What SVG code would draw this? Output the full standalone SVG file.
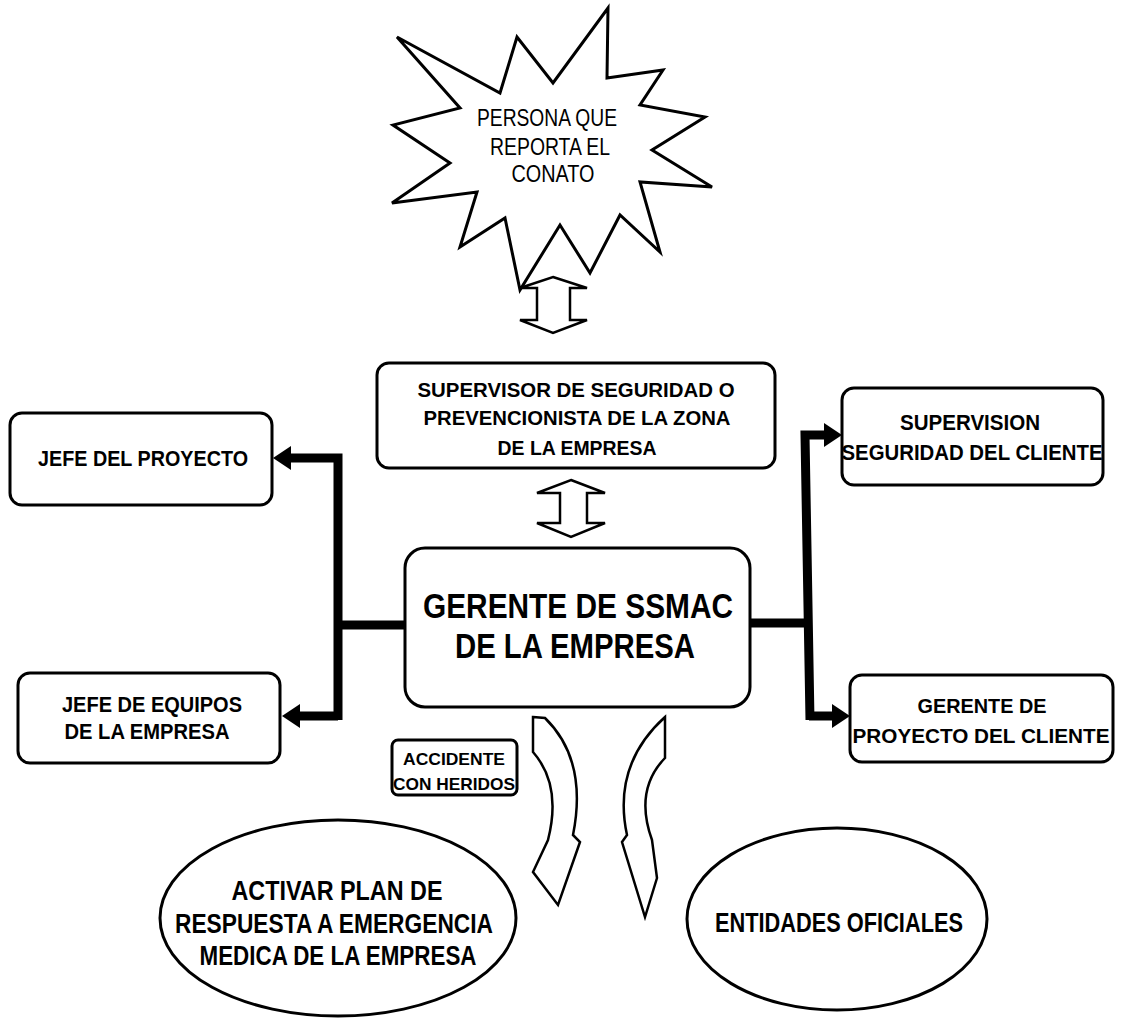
<svg xmlns="http://www.w3.org/2000/svg" width="1127" height="1018" viewBox="0 0 1127 1018">
  <style>
    .box { fill: #fff; stroke: #000; stroke-width: 3; }
    .hollow { fill: #fff; stroke: #000; stroke-width: 2.5; stroke-linejoin: miter; }
    .wire { fill: none; stroke: #000; stroke-width: 9; }
    .t { font-family: "Liberation Sans", Arial, sans-serif; font-weight: bold; fill: #000; text-anchor: middle; }
    .tn { font-family: "Liberation Sans", Arial, sans-serif; font-weight: normal; fill: #000; text-anchor: middle; }
  </style>
  <defs>
    <!-- solid head; the wire ends at the head's base -->
    <marker id="head" viewBox="0 0 18 24" refX="0" refY="12" markerWidth="18" markerHeight="24" markerUnits="userSpaceOnUse" orient="auto">
      <path d="M0,0 L18,12 L0,24 Z" fill="#000"/>
    </marker>
  </defs>
  <rect width="1127" height="1018" fill="#fff"/>

  <!-- starburst: person reporting -->
  <g id="persona">
    <polygon class="box" points="397,37 500,93 517,37 553,83 608,8 607,78 663,70 640,105 705,117 652,150 712,187 640,182 660,252 620,215 590,273 560,225 520,290 505,218 460,247 477,192 392,203 450,163 393,125 460,108"/>
    <text class="tn" x="547" y="126" font-size="24" textLength="140" lengthAdjust="spacingAndGlyphs">PERSONA QUE</text>
    <text class="tn" x="550" y="155" font-size="24" textLength="120" lengthAdjust="spacingAndGlyphs">REPORTA EL</text>
    <text class="tn" x="553" y="182" font-size="24" textLength="83" lengthAdjust="spacingAndGlyphs">CONATO</text>
  </g>

  <g id="supervisor">
    <rect class="box" x="377" y="363" width="398" height="105" rx="12"/>
    <text class="t" x="576" y="397" font-size="21" textLength="317" lengthAdjust="spacingAndGlyphs">SUPERVISOR DE SEGURIDAD O</text>
    <text class="t" x="577" y="425" font-size="21" textLength="307" lengthAdjust="spacingAndGlyphs">PREVENCIONISTA DE LA ZONA</text>
    <text class="t" x="577" y="455" font-size="21" textLength="159" lengthAdjust="spacingAndGlyphs">DE LA EMPRESA</text>
  </g>

  <g id="gerente">
    <rect class="box" x="405" y="548" width="345" height="159" rx="20"/>
    <text class="t" x="578" y="618" font-size="35" textLength="310" lengthAdjust="spacingAndGlyphs">GERENTE DE SSMAC</text>
    <text class="t" x="575" y="658" font-size="35" textLength="240" lengthAdjust="spacingAndGlyphs">DE LA EMPRESA</text>
  </g>

  <g id="jefe-proyecto">
    <rect class="box" x="10" y="413" width="262" height="92" rx="12"/>
    <text class="t" x="143" y="466" font-size="22" textLength="210" lengthAdjust="spacingAndGlyphs">JEFE  DEL PROYECTO</text>
  </g>

  <g id="jefe-equipos">
    <rect class="box" x="18" y="673" width="262" height="90" rx="12"/>
    <text class="t" x="152" y="712" font-size="22" textLength="180" lengthAdjust="spacingAndGlyphs">JEFE DE EQUIPOS</text>
    <text class="t" x="147" y="739" font-size="22" textLength="165" lengthAdjust="spacingAndGlyphs">DE LA EMPRESA</text>
  </g>

  <g id="supervision-cliente">
    <rect class="box" x="842" y="388" width="261" height="97" rx="12"/>
    <text class="t" x="970" y="430" font-size="22" textLength="140" lengthAdjust="spacingAndGlyphs">SUPERVISION</text>
    <text class="t" x="972" y="460" font-size="22" textLength="261" lengthAdjust="spacingAndGlyphs">SEGURIDAD DEL CLIENTE</text>
  </g>

  <g id="gerente-proyecto-cliente">
    <rect class="box" x="850" y="675" width="263" height="87" rx="12"/>
    <text class="t" x="982" y="713" font-size="21" textLength="129" lengthAdjust="spacingAndGlyphs">GERENTE DE</text>
    <text class="t" x="981" y="743" font-size="21" textLength="257" lengthAdjust="spacingAndGlyphs">PROYECTO DEL CLIENTE</text>
  </g>

  <g id="accidente">
    <rect class="box" x="392" y="740" width="125" height="55" rx="6"/>
    <text class="t" x="454" y="765" font-size="17" textLength="102" lengthAdjust="spacingAndGlyphs">ACCIDENTE</text>
    <text class="t" x="454" y="790" font-size="17" textLength="122" lengthAdjust="spacingAndGlyphs">CON HERIDOS</text>
  </g>

  <g id="plan-emergencia">
    <ellipse class="box" cx="338" cy="918" rx="178" ry="98"/>
    <text class="t" x="337" y="900" font-size="27" textLength="211" lengthAdjust="spacingAndGlyphs">ACTIVAR PLAN DE</text>
    <text class="t" x="334" y="933" font-size="27" textLength="318" lengthAdjust="spacingAndGlyphs">RESPUESTA A EMERGENCIA</text>
    <text class="t" x="338" y="965" font-size="27" textLength="277" lengthAdjust="spacingAndGlyphs">MEDICA DE LA EMPRESA</text>
  </g>

  <g id="entidades">
    <ellipse class="box" cx="837" cy="919" rx="150" ry="91"/>
    <text class="t" x="839" y="932" font-size="27" textLength="248" lengthAdjust="spacingAndGlyphs">ENTIDADES OFICIALES</text>
  </g>

  <!-- connectors -->
  <g id="connectors">
    <!-- hollow two-way arrows -->
    <path class="hollow" d="M553,277 L587,288 L570,288 L570,320 L587,320 L553,333 L520,320 L537,320 L537,288 L520,288 Z"/>
    <path class="hollow" d="M571,480 L605,493 L587,493 L587,523 L605,523 L571,537 L537,523 L560,523 L560,493 L537,493 Z"/>
    <!-- left branch -->
    <path class="wire" d="M405,625 L338,625"/>
    <path class="wire" d="M338,720 L338,458 L291,458" marker-end="url(#head)"/>
    <path class="wire" d="M338,716 L300,716" marker-end="url(#head)"/>
    <!-- right branch -->
    <path class="wire" d="M750,623 L809,623"/>
    <path class="wire" d="M810,720 L805,435 L824,435" marker-end="url(#head)"/>
    <path class="wire" d="M809,716 L832,716" marker-end="url(#head)"/>
    <!-- curved hollow arrows down to the two outcomes -->
    <path class="hollow" d="M533,717 L545,718 Q588,760 573,835 L580,842 L558,905 L533,872 L548,840 Q562,785 533,752 Z"/>
    <path class="hollow" d="M665,717 L665,758 Q634,790 652,840 L657,878 L645,917 L622,842 L627,835 Q612,765 665,717 Z"/>
  </g>
</svg>
